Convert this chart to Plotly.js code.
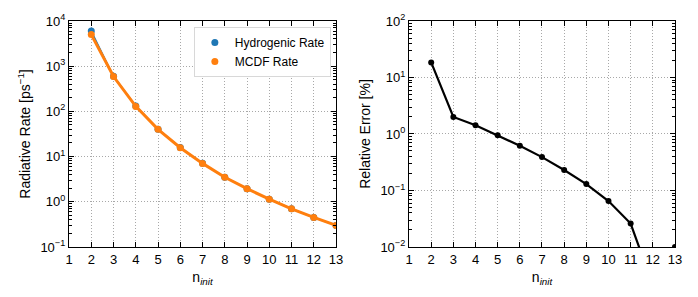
<!DOCTYPE html>
<html><head><meta charset="utf-8">
<script src="https://cdn.plot.ly/plotly-3.0.1.min.js"></script>
<style>body{margin:0;background:#fff}#c{width:698px;height:297px}</style>
</head><body><div id="c"></div>
<script>
const nInit = [2,3,4,5,6,7,8,9,10,11,12,13];
const hydrogenicRate = [6000,600,131,40.5,15.8,7.1,3.5,1.95,1.14,0.70,0.45,0.30];
const mcdfRate = [5000,590,129,40.1,15.7,7.07,3.49,1.95,1.14,0.70,0.45,0.30];
const relError = [18.5,2.0,1.43,0.95,0.62,0.39,0.23,0.13,0.065,0.026,0.0021,0.01];
const xTicks = [1,2,3,4,5,6,7,8,9,10,11,12,13];
const leftYTickVals = [0.1,1,10,100,1000,10000];
const leftYTickText = ['10<sup>−1</sup>','10<sup>0</sup>','10<sup>1</sup>','10<sup>2</sup>','10<sup>3</sup>','10<sup>4</sup>'];
const rightYTickVals = [0.01,0.1,1,10,100];
const rightYTickText = ['10<sup>−2</sup>','10<sup>−1</sup>','10<sup>0</sup>','10<sup>1</sup>','10<sup>2</sup>'];

const blue = '#1f77b4', orange = '#ff7f0e';
const traces = [
  {x:nInit,y:hydrogenicRate,mode:'lines',line:{color:blue,width:1.5},showlegend:false,xaxis:'x',yaxis:'y'},
  {x:nInit,y:hydrogenicRate,mode:'markers',marker:{color:blue,size:7},name:'Hydrogenic Rate',xaxis:'x',yaxis:'y'},
  {x:nInit,y:mcdfRate,mode:'lines',line:{color:orange,width:3},showlegend:false,xaxis:'x',yaxis:'y'},
  {x:nInit,y:mcdfRate,mode:'markers',marker:{color:orange,size:7},name:'MCDF Rate',xaxis:'x',yaxis:'y'},
  {x:nInit,y:relError,mode:'lines+markers',line:{color:'black',width:2.2},marker:{color:'black',size:6},showlegend:false,xaxis:'x2',yaxis:'y2'}
];
const font = {family:'Liberation Sans, Arial, sans-serif',size:13,color:'black'};
const gridStyle = {showgrid:true,gridcolor:'#a8a8a8',griddash:'1px,2px',gridwidth:1};
function xax(dom, anchor){
  return Object.assign({domain:dom,anchor:anchor,range:[1,13],tickvals:xTicks,ticks:'inside',ticklen:5,tickcolor:'black',
    showline:true,linecolor:'black',linewidth:1.2,mirror:'ticks',
    zeroline:false,title:{text:'n<sub><i>init</i></sub>',font:{size:14},standoff:6},tickfont:{size:13}},gridStyle);
}
function yax(dom, anchor, rng, tv, tt, title){
  return Object.assign({domain:dom,anchor:anchor,type:'log',range:rng,tickvals:tv,ticktext:tt,ticks:'inside',ticklen:5,tickcolor:'black',
    showline:true,linecolor:'black',linewidth:1.2,mirror:'ticks',
    zeroline:false,title:{text:title,font:{size:14},standoff:6},tickfont:{size:13},
    minor:{ticks:'inside',ticklen:3,tickcolor:'black',dtick:'D1',showgrid:false}},gridStyle);
}
const yd = [0.1684,0.9293];
const layout = {
  width:698,height:297,margin:{l:0,r:0,t:0,b:0},paper_bgcolor:'white',plot_bgcolor:'white',font:font,
  xaxis:xax([0.0989,0.4814],'y'),
  yaxis:yax(yd,'x',[-1,4],leftYTickVals,leftYTickText,'Radiative Rate [ps<sup>−1</sup>]'),
  xaxis2:xax([0.586,0.967],'y2'),
  yaxis2:yax(yd,'x2',[-2,2],rightYTickVals,rightYTickText,'Relative Error [%]'),
  legend:{x:0.474,xanchor:'right',y:0.909,yanchor:'top',bgcolor:'white',bordercolor:'#d8d8d8',borderwidth:1,
    font:{size:12},itemwidth:30,tracegroupgap:0},
  showlegend:true
};
Plotly.newPlot('c',traces,layout,{staticPlot:true});
</script></body></html>
